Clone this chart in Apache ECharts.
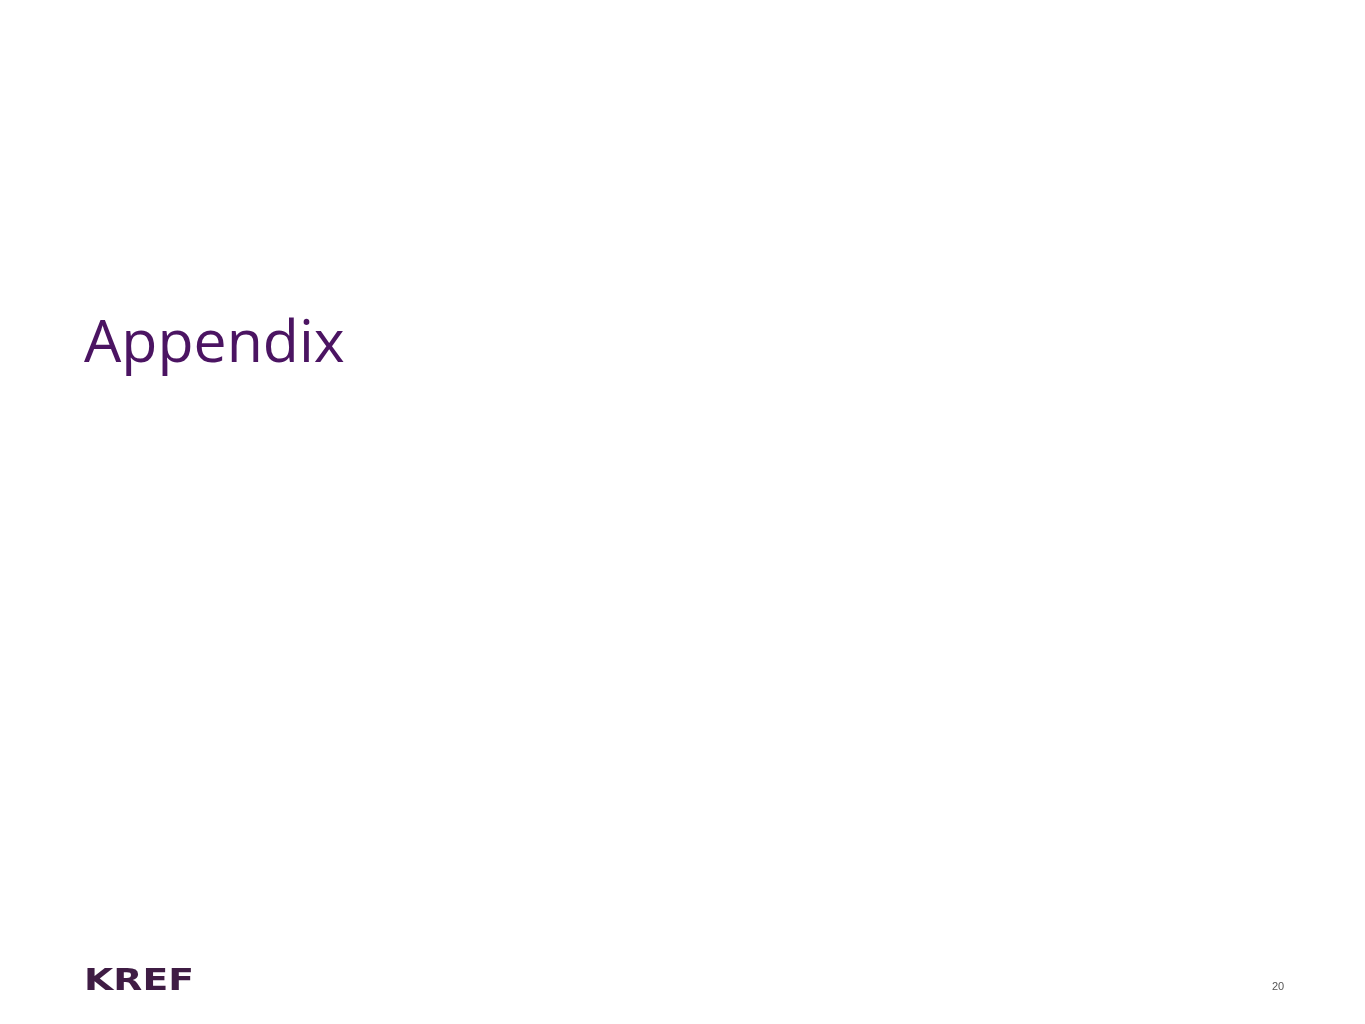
<!DOCTYPE html>
<html lang="en">
<head>
    <meta charset="UTF-8">
    <title>Appendix</title>
    <style>
        html, body { margin: 0; padding: 0; background: #fff; }
        #main { width: 1365px; height: 1024px; }
    </style>
</head>
<body>
    <div id="main"></div>
    <script src="https://cdn.jsdelivr.net/npm/echarts@6/dist/echarts.min.js"></script>
    <script type="text/javascript">
        // slide texts
        var titleText = 'Appendix';
        var logoText = 'KREF';
        var pageNumber = '20';

        var myChart = echarts.init(document.getElementById('main'));

        var option = {
            backgroundColor: '#ffffff',
            graphic: [
                {
                    type: 'text',
                    left: 84,
                    top: 316,
                    style: {
                        text: titleText,
                        fill: '#4b1462',
                        font: '59px "Open Sans", sans-serif'
                    }
                },
                {
                    type: 'text',
                    x: 84,
                    y: 967,
                    scaleX: 1.26,
                    style: {
                        text: logoText,
                        fill: '#3f1c44',
                        font: 'bold 30px "DejaVu Sans", sans-serif'
                    }
                },
                {
                    type: 'text',
                    left: 1272,
                    top: 981,
                    style: {
                        text: pageNumber,
                        fill: '#555555',
                        font: '11px "Liberation Sans", Arial, sans-serif'
                    }
                }
            ]
        };

        myChart.setOption(option);
    </script>
</body>
</html>
